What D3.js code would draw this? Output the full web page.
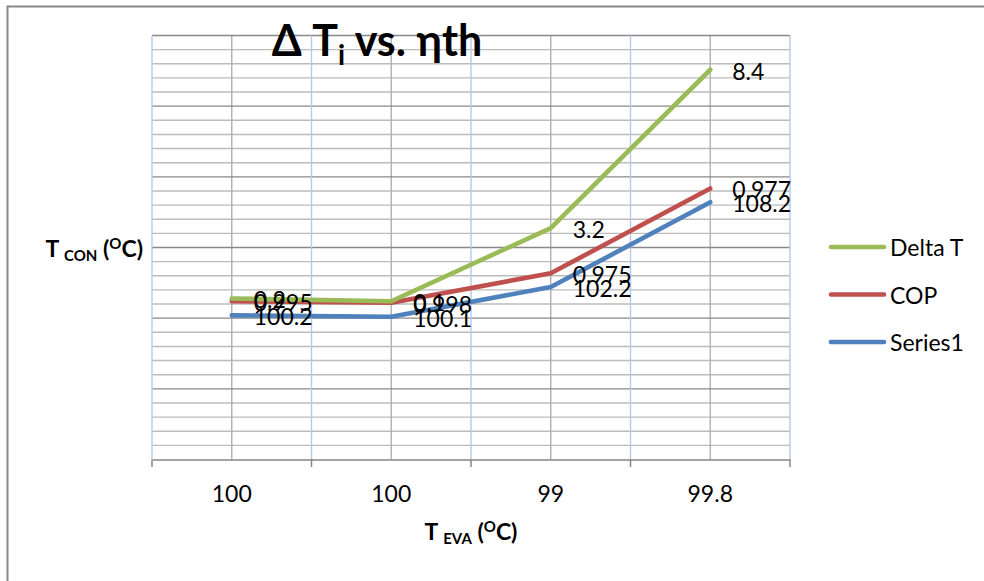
<!DOCTYPE html>
<html><head><meta charset="utf-8">
<script src="https://cdn.jsdelivr.net/npm/d3@7"></script>
<style>body{margin:0;background:#fff}svg{display:block}text{font-family:Lato,"Open Sans",sans-serif;fill:#000}</style>
</head><body><svg id="c" width="984" height="581"></svg>
<script>
const categories = ["100", "100", "99", "99.8"];
const series1 = [100.2, 100.1, 102.2, 108.2];
const cop = [0.995, 0.998, 0.975, 0.977];
const deltaT = [0.2, 0.1, 3.2, 8.4];
const seriesNames = ["Series1", "COP", "Delta T"];
const seriesColors = ["#4F81BD", "#C0504D", "#9BBB59"];
const legendOrder = ["Delta T", "COP", "Series1"];
const yDomain = [90, 120];
const yMajorStep = 5;
const yMinorStep = 1;

const svg = d3.select("#c");
const plot = {left: 152, right: 790, top: 35.5, bottom: 459.5};

// outer chart frame
svg.append("rect").attr("x", 7.5).attr("y", 6.5).attr("width", 1100).attr("height", 700)
  .attr("fill", "none").attr("stroke", "#878787").attr("stroke-width", 2);

const x = d3.scaleBand().domain(d3.range(categories.length)).range([plot.left, plot.right]).padding(0);
const xc = i => x(i) + x.bandwidth() / 2;
const y = d3.scaleLinear().domain(yDomain).range([plot.bottom, plot.top]);

const g = svg.append("g");
const minorTicks = d3.range(yDomain[0] + yMinorStep, yDomain[1] + 0.001, yMinorStep).filter(v => v % yMajorStep !== 0);
g.selectAll(".hmin").data(minorTicks).join("line")
  .attr("x1", plot.left).attr("x2", plot.right)
  .attr("y1", d => y(d)).attr("y2", d => y(d))
  .attr("stroke", "#bcbcbc").attr("stroke-width", 1.4);
g.selectAll(".vc").data(d3.range(categories.length)).join("line")
  .attr("x1", d => xc(d)).attr("x2", d => xc(d))
  .attr("y1", plot.top).attr("y2", plot.bottom)
  .attr("stroke", "#b0b0b0").attr("stroke-width", 1.4);
const majorTicks = d3.range(yDomain[0] + yMajorStep, yDomain[1] + 0.001, yMajorStep);
g.selectAll(".hmaj").data(majorTicks).join("line")
  .attr("x1", plot.left).attr("x2", plot.right)
  .attr("y1", d => y(d)).attr("y2", d => y(d))
  .attr("stroke", "#888888").attr("stroke-width", 1.4);
const bounds = d3.range(categories.length + 1).map(i => i < categories.length ? x(i) : x(categories.length - 1) + x.bandwidth());
g.selectAll(".vb").data(bounds).join("line")
  .attr("x1", d => d).attr("x2", d => d)
  .attr("y1", plot.top).attr("y2", plot.bottom)
  .attr("stroke", "#b6c9ea").attr("stroke-width", 1.4);

// x axis
const xAxis = d3.axisBottom(x).tickSize(0).tickFormat(i => categories[i]);
const ax = svg.append("g").attr("transform", `translate(0,${plot.bottom})`).call(xAxis);
ax.select(".domain").attr("stroke", "#868686").attr("stroke-width", 1.5);
ax.selectAll(".tick text").attr("font-size", 23).attr("dy", 0).attr("y", 42)
  .style("font-family", "Lato").attr("fill", "#000");
svg.selectAll(".btick").data(bounds).join("line")
  .attr("x1", d => d).attr("x2", d => d)
  .attr("y1", plot.bottom).attr("y2", plot.bottom + 7.5)
  .attr("stroke", "#868686").attr("stroke-width", 1.5);

// stacked data
const rows = categories.map((c, i) => ({i: i, "Series1": series1[i], "COP": cop[i], "Delta T": deltaT[i]}));
const stacked = d3.stack().keys(seriesNames)(rows);
const line = d3.line().x(d => xc(d.data.i)).y(d => y(d[1]));
stacked.forEach((s, k) => {
  svg.append("path").datum(s).attr("d", line)
    .attr("fill", "none").attr("stroke", seriesColors[k]).attr("stroke-width", 4.6)
    .attr("stroke-linejoin", "round").attr("stroke-linecap", "round");
});
stacked.forEach((s, k) => {
  svg.append("g").selectAll("text").data(s).join("text")
    .attr("x", d => xc(d.data.i) + 22).attr("y", d => y(d[1]) + 1)
    .attr("dominant-baseline", "central").attr("font-size", 23)
    .text(d => d.data[s.key]);
});

// legend
const leg = svg.append("g");
legendOrder.forEach((name, j) => {
  const k = seriesNames.indexOf(name);
  const ly = 247 + j * 47.5;
  leg.append("line").attr("x1", 831).attr("x2", 884).attr("y1", ly).attr("y2", ly)
    .attr("stroke", seriesColors[k]).attr("stroke-width", 4.6).attr("stroke-linecap", "round");
  leg.append("text").attr("x", 890).attr("y", ly).attr("dominant-baseline", "central")
    .attr("font-size", 23).text(name);
});

// title
const t = svg.append("text").attr("x", 377).attr("y", 56).attr("text-anchor", "middle")
  .attr("font-size", 43).attr("font-weight", "bold");
t.append("tspan").text("Δ T");
t.append("tspan").attr("font-size", 28).attr("dy", 9).text("i");
t.append("tspan").attr("dy", -9).text(" vs. ηth");

// x axis title
const xt = svg.append("text").attr("x", (plot.left + plot.right) / 2).attr("y", 540).attr("text-anchor", "middle")
  .attr("font-size", 23).attr("font-weight", "bold");
xt.append("tspan").text("T ");
xt.append("tspan").attr("font-size", 15).attr("dy", 4).text("EVA");
xt.append("tspan").attr("dy", -4).text(" (");
xt.append("tspan").attr("font-size", 15).attr("dy", -8).text("O");
xt.append("tspan").attr("dy", 8).text("C)");

// y axis title
const yt = svg.append("text").attr("x", 143).attr("y", 257).attr("text-anchor", "end")
  .attr("font-size", 23).attr("font-weight", "bold");
yt.append("tspan").text("T ");
yt.append("tspan").attr("font-size", 15).attr("dy", 4).text("CON");
yt.append("tspan").attr("dy", -4).text(" (");
yt.append("tspan").attr("font-size", 15).attr("dy", -8).text("O");
yt.append("tspan").attr("dy", 8).text("C)");
</script></body></html>
